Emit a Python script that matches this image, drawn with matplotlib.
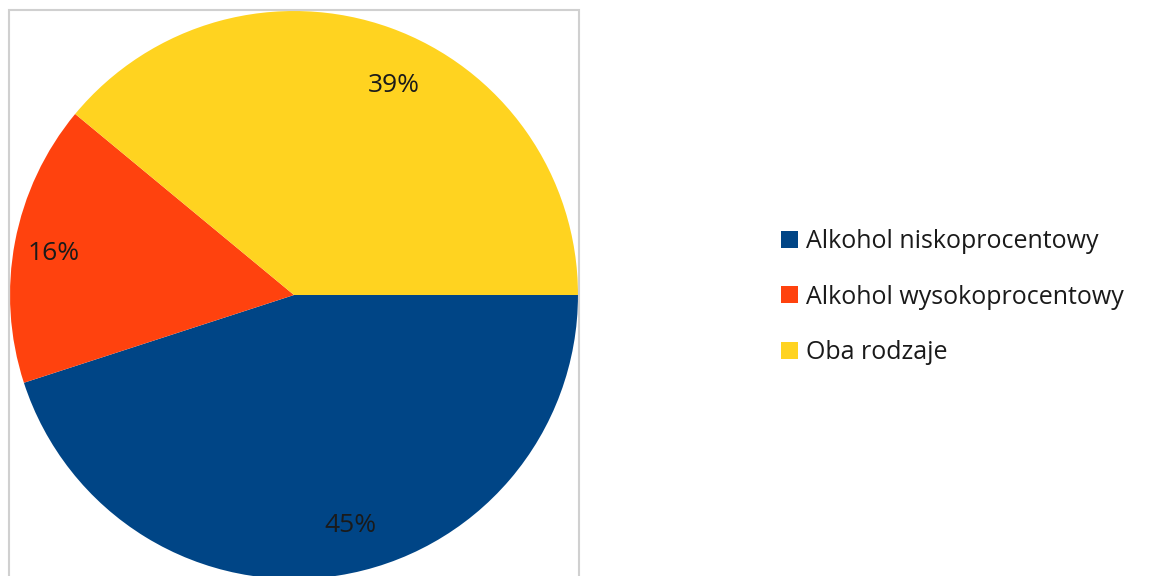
import matplotlib.pyplot as plt
from matplotlib.patches import Rectangle, Patch

# data
categories = ["Alkohol niskoprocentowy", "Alkohol wysokoprocentowy", "Oba rodzaje"]
shares = [45, 16, 39]
colors = ["#004586", "#ff420e", "#ffd320"]

# small nudges of the percent labels (axes units, radius = 1)
label_nudge = [(0.07, 0.0), (-0.042, -0.007), (0.072, -0.033)]

plt.rcParams["font.family"] = ["Open Sans", "DejaVu Sans"]

W, H = 1159, 576
fig = plt.figure(figsize=(W / 100, H / 100), dpi=100)

px_left, px_top, px_size = 10, 11, 568
ax = fig.add_axes([px_left / W, (H - px_top - px_size) / H, px_size / W, px_size / H])
wedges, texts, autotexts = ax.pie(
    shares,
    colors=colors,
    startangle=0,
    counterclock=False,
    radius=1.0,
    autopct=lambda p: f"{p:.0f}%",
    pctdistance=0.82,
    textprops={"fontsize": 19, "color": "#1a1a1a"},
)
for t, (dx, dy) in zip(autotexts, label_nudge):
    x, y = t.get_position()
    t.set_position((x + dx, y + dy))

ax.set_xlim(-1, 1)
ax.set_ylim(-1, 1)
ax.set_aspect("equal")
ax.axis("off")

# light grey frame around the chart area
frame = Rectangle((9 / W, -0.05), 570 / W, (H - 10) / H + 0.05,
                  transform=fig.transFigure, fill=False,
                  edgecolor="#d0d0d0", linewidth=1.5)
fig.patches.append(frame)

handles = [Patch(facecolor=c, edgecolor="none") for c in colors]
fig.legend(handles, categories, loc="center left",
           bbox_to_anchor=(758 / W, 1 - 297 / H), frameon=False,
           fontsize=18, handlelength=0.68, handleheight=0.68,
           handletextpad=0.36, labelspacing=1.22, labelcolor="#1a1a1a")

fig.savefig("out.png", dpi=100)
